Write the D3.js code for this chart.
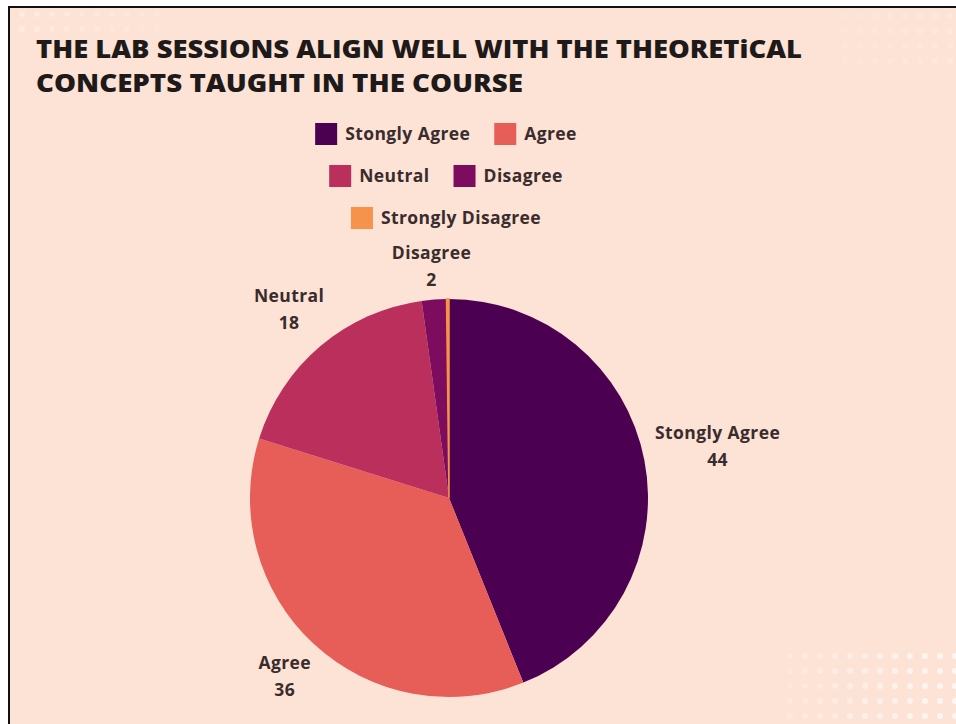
<!DOCTYPE html>
<html>
<head>
<meta charset="utf-8">
<script src="https://cdn.jsdelivr.net/npm/d3@7"></script>
<style>
  body { margin: 0; background: #fff; }
  svg { display: block; }
</style>
</head>
<body>
<svg id="chart" width="956" height="724"></svg>
<script>
// survey answers
var categories = ["Stongly Agree", "Agree", "Neutral", "Disagree", "Strongly Disagree"];
var values = [44, 36, 18, 2, 0.2];
var shownValues = ["44", "36", "18", "2", ""];
var colors = ["#4b0052", "#e65e57", "#ba2f5b", "#7d0c5e", "#f7924a"];
var titleLines = ["THE LAB SESSIONS ALIGN WELL WITH THE THEORETiCAL", "CONCEPTS TAUGHT IN THE COURSE"];
// legend rows, as indexes into categories
var legendRows = [[0, 1], [2, 3], [4]];

var svg = d3.select("#chart"),
    width = +svg.attr("width"),
    height = +svg.attr("height");

// card background + border
svg.append("rect")
  .attr("x", 9).attr("y", 7)
  .attr("width", width).attr("height", height)
  .attr("fill", "#fde3d6")
  .attr("stroke", "#111").attr("stroke-width", 2);

// faint dotted decoration (corners)
function dots(x0, y0, cols, rows, step, fadeRight, maxOp) {
  var g = svg.append("g");
  for (var i = 0; i < cols; i++) {
    for (var j = 0; j < rows; j++) {
      var t = fadeRight ? i / (cols - 1) : 1 - i / (cols - 1);
      g.append("circle")
        .attr("cx", x0 + i * step).attr("cy", y0 + j * step)
        .attr("r", 3)
        .attr("fill", "#fff")
        .attr("opacity", maxOp * (0.25 + 0.75 * t));
    }
  }
}
dots(790, 656, 12, 5, 15, true, 0.7);
dots(22, 14, 10, 2, 15, false, 0.3);
dots(830, 16, 9, 4, 15, true, 0.2);

// title
var color = d3.scaleOrdinal().domain(categories).range(colors);
var title = svg.append("g");
title.selectAll("text")
  .data(titleLines)
  .enter()
  .append("text")
  .attr("x", 36)
  .attr("y", function (d, i) { return 58 + i * 34; })
  .attr("font-family", "'Open Sans', sans-serif")
  .attr("font-weight", 800)
  .attr("font-size", 24)
  .attr("fill", "#1f1a1a")
  .attr("textLength", function (d, i) { return i == 0 ? 766 : 487; })
  .attr("lengthAdjust", "spacingAndGlyphs")
  .text(function (d) { return d; });

var textFont = "'Open Sans', sans-serif";

// legend
var legend = svg.append("g").attr("font-family", textFont)
  .attr("font-weight", 700).attr("font-size", 17.5)
  .attr("letter-spacing", 0.4).attr("fill", "#3a2c2c");
legendRows.forEach(function (row, r) {
  var rowG = legend.append("g");
  var x = 0;
  row.forEach(function (ci) {
    var item = rowG.append("g").attr("transform", "translate(" + x + ",0)");
    item.append("rect")
      .attr("width", 22).attr("height", 22)
      .attr("fill", color(categories[ci]));
    var t = item.append("text")
      .attr("x", 30).attr("y", 17)
      .text(categories[ci]);
    x += 30 + t.node().getComputedTextLength() + 24;
  });
  var w = x - 24;
  rowG.attr("transform", "translate(" + (446 - w / 2) + "," + (123 + r * 42) + ")");
});

// pie
var cx = 449, cy = 498, radius = 199;
var pie = d3.pie().sort(null).value(function (d) { return d; });
var arc = d3.arc().innerRadius(0).outerRadius(radius);
var arcs = pie(values);

var g = svg.append("g").attr("transform", "translate(" + cx + "," + cy + ")");
g.selectAll("path")
  .data(arcs)
  .enter()
  .append("path")
  .attr("d", arc)
  .attr("fill", function (d, i) { return color(categories[i]); })
  .attr("stroke", function (d, i) { return color(categories[i]); })
  .attr("stroke-width", function (d, i) { return values[i] < 1 ? 1.5 : 0; });

// outside labels: box pushed out along the slice's mid angle
var labelR = 208, boxH = 44;
arcs.forEach(function (d, i) {
  if (shownValues[i] === "") return;
  var a = (d.startAngle + d.endAngle) / 2;
  var lab = g.append("text")
    .attr("font-family", textFont)
    .attr("font-weight", 700)
    .attr("font-size", 17.5)
    .attr("letter-spacing", 0.4)
    .attr("fill", "#3a2c2c")
    .attr("text-anchor", "middle");
  lab.append("tspan").attr("x", 0).attr("y", -7).text(categories[i]);
  lab.append("tspan").attr("x", 0).attr("y", 20).text(shownValues[i]);
  var w = lab.node().getBBox().width;
  var s = Math.sin(a), c = Math.cos(a);
  var dist = labelR + w / 2 * Math.abs(s) + boxH / 2 * Math.abs(c);
  lab.attr("transform", "translate(" + (s * dist) + "," + (-c * dist) + ")");
});
</script>
</body>
</html>
